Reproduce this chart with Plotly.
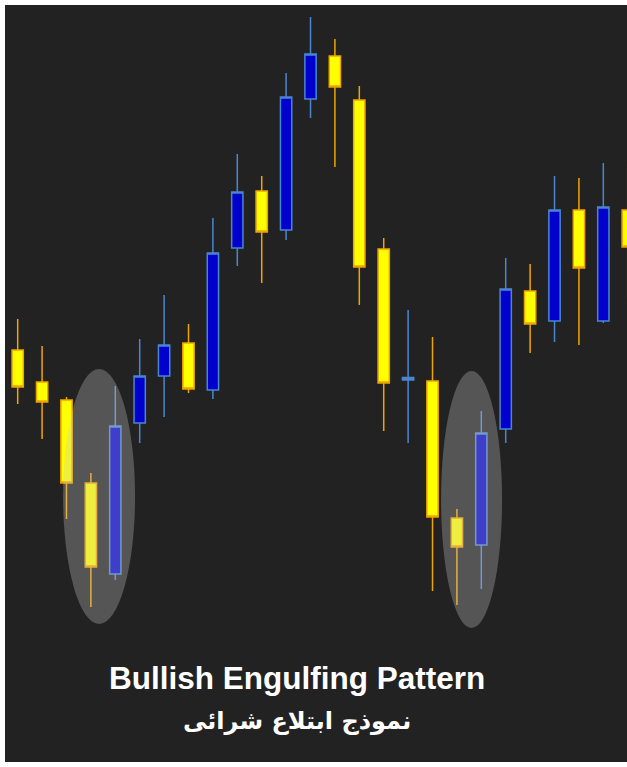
import plotly.graph_objects as go

# Candle index (time) and OHLC values (arbitrary price units)
candle_index = list(range(26))
open_ = [417, 385, 367, 284, 193, 344, 391, 424, 377, 519, 576, 537, 668, 711, 667, 518,
         387, 386, 249, 222, 338, 476, 446, 557, 446, 557]
high = [448, 421, 370, 294, 381, 428, 472, 443, 549, 613, 591, 694, 750, 728, 681, 529,
        457, 430, 258, 356, 509, 503, 591, 589, 604, 603]
low = [363, 328, 248, 160, 187, 324, 350, 374, 368, 501, 484, 527, 649, 600, 462, 336,
       324, 176, 162, 178, 324, 414, 425, 422, 444, 469]
close = [380, 365, 284, 200, 341, 391, 422, 378, 514, 575, 535, 670, 713, 680, 500, 384,
         389.5, 250, 220, 334, 478, 443, 557, 499, 560, 520]

title_en = "Bullish Engulfing Pattern"
title_ar = "نموذج ابتلاع شرائى"

fig = go.Figure()
fig.add_trace(go.Candlestick(
    x=candle_index, open=open_, high=high, low=low, close=close,
    increasing=dict(fillcolor="#0000cc", line=dict(color="#4a86d0", width=1.5)),
    decreasing=dict(fillcolor="#ffff00", line=dict(color="#f0a400", width=1.5)),
    whiskerwidth=0,
    hoverinfo="skip",
))

# highlight ellipses around the two engulfing patterns
ellipse_style = dict(type="circle", xref="x", yref="y", layer="above",
                     fillcolor="rgba(200,200,200,0.31)", line=dict(width=0))
fig.add_shape(x0=1.86, x1=4.81, y0=143, y1=398, **ellipse_style)
fig.add_shape(x0=17.35, x1=19.85, y0=139, y1=396, **ellipse_style)

fig.add_annotation(text=title_en, xref="paper", yref="paper", x=0.4695, y=0.111,
                   xanchor="center", yanchor="middle", showarrow=False,
                   font=dict(family="Liberation Sans, Arial", size=31.5, color="white", weight="bold"))
fig.add_annotation(text=title_ar, xref="paper", yref="paper", x=0.4695, y=0.0542,
                   xanchor="center", yanchor="middle", showarrow=False,
                   font=dict(family="DejaVu Sans", size=24, color="white", weight="bold"))

fig.update_layout(
    width=627, height=767,
    margin=dict(l=5, r=0, t=5, b=5),
    paper_bgcolor="white",
    plot_bgcolor="#222222",
    showlegend=False,
    hovermode=False,
    boxgap=0.34,
    xaxis=dict(range=[-0.52, 24.97], visible=False, rangeslider=dict(visible=False),
               fixedrange=True),
    yaxis=dict(range=[5, 762], visible=False, fixedrange=True),
)

fig.write_html("out.html", config={"displayModeBar": False},
               post_script="document.body.style.margin='0px';")
